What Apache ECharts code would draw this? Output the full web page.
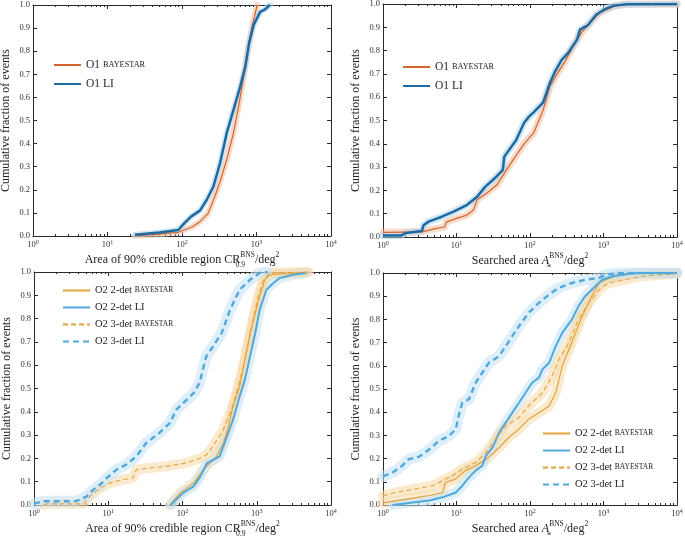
<!DOCTYPE html>
<html>
<head>
<meta charset="utf-8">
<script src="https://cdn.jsdelivr.net/npm/echarts@6/dist/echarts.min.js"></script>
<style>html,body{margin:0;padding:0;background:#fff}#c{width:685px;height:536px}</style>
</head>
<body>
<div id="c"></div>
<script>
// ---------- DATA ----------
const yTicks = [0,0.1,0.2,0.3,0.4,0.5,0.6,0.7,0.8,0.9,1.0];
const xMajorTicks = [1,10,100,1000,10000];
const xMinorTicks = [2,3,4,5,6,7,8,9,20,30,40,50,60,70,80,90,200,300,400,500,600,700,800,900,2000,3000,4000,5000,6000,7000,8000,9000];

// Panel 1: 90% credible region, O1
const p1BayX = [23.4, 50, 89, 138, 174, 224, 275, 324, 398, 490, 575, 661, 776, 891, 1023];
const p1BayY = [0.0, 0.008, 0.016, 0.04, 0.062, 0.098, 0.17, 0.235, 0.33, 0.445, 0.56, 0.675, 0.82, 0.92, 1.0];
const p1LiX = [23.4, 50, 89, 107, 132, 174, 214, 263, 324, 398, 490, 603, 708, 794, 912, 1122, 1288, 1514];
const p1LiY = [0.005, 0.015, 0.026, 0.055, 0.084, 0.11, 0.156, 0.213, 0.315, 0.445, 0.545, 0.646, 0.733, 0.834, 0.913, 0.97, 0.98, 1.0];

// Panel 2: searched area, O1
const p2BayX = [1, 3.39, 5.37, 6.92, 7.24, 10, 13.8, 17.0, 19.1, 25.7, 35.5, 47.9, 64.6, 83.2, 100, 112, 151, 186, 234, 302, 389, 501, 661, 891, 1380, 2089, 10000];
const p2BayY = [0.02, 0.022, 0.037, 0.043, 0.064, 0.08, 0.094, 0.116, 0.16, 0.188, 0.224, 0.288, 0.35, 0.40, 0.43, 0.446, 0.545, 0.646, 0.70, 0.756, 0.82, 0.877, 0.92, 0.963, 0.99, 1.0, 1.0];
const p2LiX = [1, 1.74, 2.04, 3.39, 3.55, 4.17, 6.31, 9.12, 13.8, 19.1, 24.5, 33.1, 42.7, 44.7, 64.6, 83.2, 97.7, 112, 151, 186, 219, 269, 331, 437, 479, 617, 794, 1047, 1380, 2089, 10000];
const p2LiY = [0.006, 0.006, 0.017, 0.026, 0.05, 0.066, 0.087, 0.109, 0.137, 0.173, 0.215, 0.252, 0.288, 0.345, 0.415, 0.49, 0.518, 0.535, 0.578, 0.66, 0.71, 0.76, 0.79, 0.847, 0.89, 0.91, 0.954, 0.978, 0.993, 0.999, 1.0];

// Panel 3: 90% credible region, O2
const p3Bay2X = [67.6, 93.3, 141, 191, 288, 355, 417, 479, 589, 692, 813, 955, 1096, 1288, 1445, 1660, 3090, 4677];
const p3Bay2Y = [0, 0.052, 0.094, 0.152, 0.209, 0.266, 0.338, 0.424, 0.51, 0.624, 0.738, 0.824, 0.896, 0.967, 0.985, 0.99, 0.995, 1.0];
const p3Li2X = [69.2, 102, 141, 174, 214, 316, 398, 479, 589, 692, 813, 955, 1096, 1349, 1660, 2042, 3090, 4677];
const p3Li2Y = [0, 0.052, 0.08, 0.123, 0.18, 0.209, 0.295, 0.366, 0.467, 0.538, 0.638, 0.738, 0.838, 0.924, 0.952, 0.974, 0.988, 0.996];
const p3Bay3X = [1.35, 1.48, 4.68, 5.13, 6.31, 7.76, 10.5, 15.8, 21.4, 24.0, 36.3, 60.3, 112, 170, 209, 257, 355, 457, 562, 661, 776, 891, 1047, 1230, 1514, 5000];
const p3Bay3Y = [0, 0.005, 0.005, 0.023, 0.05, 0.073, 0.094, 0.109, 0.116, 0.152, 0.159, 0.166, 0.18, 0.2, 0.215, 0.252, 0.323, 0.41, 0.51, 0.595, 0.695, 0.796, 0.896, 0.967, 0.996, 1.0];
const p3Li3X = [1, 1.35, 3.55, 4.17, 5.13, 6.31, 7.76, 9.55, 12.9, 17.4, 24.0, 32.4, 49.0, 67.6, 83.2, 141, 170, 191, 209, 257, 339, 437, 589, 813, 1096, 1400];
const p3Li3Y = [0.006, 0.016, 0.016, 0.023, 0.037, 0.066, 0.087, 0.116, 0.152, 0.173, 0.209, 0.266, 0.31, 0.352, 0.41, 0.48, 0.524, 0.59, 0.638, 0.68, 0.74, 0.838, 0.924, 0.967, 0.996, 1.0];

// Panel 4: searched area, O2
const p4Bay2X = [1, 2.24, 4.68, 6.46, 7.08, 9.77, 13.2, 18.2, 27.5, 38.0, 51.3, 70.8, 95.5, 132, 182, 224, 275, 339, 417, 513, 692, 871, 1072, 1445, 2455, 5000, 10000];
const p4Bay2Y = [0.009, 0.026, 0.043, 0.054, 0.097, 0.112, 0.148, 0.169, 0.205, 0.248, 0.291, 0.327, 0.37, 0.398, 0.427, 0.484, 0.599, 0.67, 0.742, 0.814, 0.9, 0.957, 0.971, 0.986, 0.997, 1.0, 1.0];
const p4Li2X = [1.35, 2.24, 4.27, 6.46, 9.77, 12.0, 14.8, 18.2, 22.4, 25.1, 30.9, 38.0, 46.8, 57.5, 70.8, 87.1, 107, 132, 148, 182, 224, 275, 372, 457, 562, 776, 955, 1318, 2188, 3000, 10000];
const p4Li2Y = [0, 0.009, 0.019, 0.033, 0.054, 0.083, 0.119, 0.148, 0.169, 0.212, 0.248, 0.312, 0.355, 0.398, 0.441, 0.484, 0.527, 0.549, 0.585, 0.613, 0.685, 0.742, 0.8, 0.857, 0.9, 0.943, 0.971, 0.986, 0.997, 1.0, 1.0];
const p4Bay3X = [1, 1.48, 2.75, 4.68, 6.46, 8.71, 12.0, 18.2, 25.1, 33.9, 46.8, 70.8, 95.5, 148, 200, 245, 339, 457, 631, 871, 1175, 1995, 3311, 9550];
const p4Bay3Y = [0.04, 0.054, 0.069, 0.083, 0.105, 0.126, 0.155, 0.183, 0.226, 0.284, 0.341, 0.377, 0.427, 0.484, 0.556, 0.627, 0.699, 0.8, 0.871, 0.928, 0.957, 0.971, 0.986, 0.997];
const p4Li3X = [1, 1.35, 1.82, 2.24, 3.09, 4.27, 5.75, 7.94, 9.77, 10.7, 12.0, 14.8, 18.2, 22.4, 27.5, 38.0, 46.8, 57.5, 70.8, 95.5, 132, 182, 245, 372, 562, 871, 1072, 1622, 10000];
const p4Li3Y = [0.123, 0.14, 0.169, 0.198, 0.208, 0.24, 0.276, 0.298, 0.327, 0.384, 0.441, 0.456, 0.527, 0.57, 0.613, 0.642, 0.685, 0.728, 0.771, 0.828, 0.871, 0.907, 0.936, 0.957, 0.971, 0.979, 0.993, 1.0, 1.0];

// ---------- STYLE / LAYOUT ----------
const SERIF = '"Liberation Serif","DejaVu Serif",serif';
const AX = '#2a2a2a';
const C = {
  o1Bay: '#d4652c', o1BayBand: '#f3bfa0',
  o1Li: '#1d6aa2', o1LiBand: '#b0d3ec',
  o2Bay: '#e3a23c', o2BayBand: '#f6d9a6',
  o2Li: '#4fa9dc', o2LiBand: '#c3e2f5'
};
const grids = [
  {left: 33, top: 5, width: 298, height: 231},
  {left: 383, top: 4, width: 294, height: 233},
  {left: 34, top: 272, width: 297, height: 233},
  {left: 383, top: 273, width: 294, height: 232}
].map(g => Object.assign(g, {containLabel: false, outerBoundsMode: 'none'}));
const xNames = [
  'Area of 90% credible region CR{sub|0.9}{sup|BNS}{n|/deg}{sq|2}',
  'Searched area {it|A}{sub|∗}{sup|BNS}{n|/deg}{sq|2}',
  'Area of 90% credible region CR{sub|0.9}{sup|BNS}{n|/deg}{sq|2}',
  'Searched area {it|A}{sub|∗}{sup|BNS}{n|/deg}{sq|2}'
];
const nameRich = {
  n: {fontSize: 12, fontFamily: SERIF, color: '#222', lineHeight: 18, verticalAlign: 'middle'},
  it: {fontSize: 12, fontFamily: SERIF, fontStyle: 'italic', color: '#222', lineHeight: 18},
  sup: {fontSize: 7.5, fontFamily: SERIF, color: '#222', lineHeight: 8, verticalAlign: 'top'},
  sub: {fontSize: 7.5, fontFamily: SERIF, color: '#222', lineHeight: 8, verticalAlign: 'bottom', width: 0, align: 'left'},
  sq: {fontSize: 7.5, fontFamily: SERIF, color: '#222', lineHeight: 10, verticalAlign: 'top'}
};

const xAxes = [], yAxes = [];
grids.forEach((g, i) => {
  const base = {gridIndex: i, type: 'log', logBase: 10, min: 1, max: 10000, splitLine: {show: false}, minorSplitLine: {show: false}};
  xAxes.push(Object.assign({}, base, {
    position: 'bottom',
    axisLine: {show: true, lineStyle: {color: AX, width: 1}},
    axisTick: {show: true, inside: true, length: 4, customValues: xMajorTicks, lineStyle: {color: AX}},
    axisLabel: {
      show: true, margin: 3, customValues: xMajorTicks,
      formatter: v => '{b|10}{e|' + Math.round(Math.log10(v)) + '}',
      rich: {
        b: {fontSize: 8.5, fontFamily: SERIF, color: '#333', lineHeight: 12},
        e: {fontSize: 6, fontFamily: SERIF, color: '#333', lineHeight: 7, verticalAlign: 'top'}
      }
    },
    name: xNames[i], nameLocation: 'middle', nameGap: 15, nameMoveOverlap: false,
    nameTextStyle: {fontSize: 12, fontFamily: SERIF, color: '#222', rich: nameRich}
  }));
  xAxes.push(Object.assign({}, base, {
    position: 'bottom', axisLine: {show: false},
    axisTick: {show: true, inside: true, length: 2, customValues: xMinorTicks, lineStyle: {color: AX}},
    axisLabel: {show: false}
  }));
  xAxes.push(Object.assign({}, base, {
    position: 'top', axisLine: {show: true, lineStyle: {color: AX, width: 1}},
    axisTick: {show: true, inside: true, length: 4, customValues: xMajorTicks, lineStyle: {color: AX}},
    axisLabel: {show: false}
  }));
  xAxes.push(Object.assign({}, base, {
    position: 'top', axisLine: {show: false},
    axisTick: {show: true, inside: true, length: 2, customValues: xMinorTicks, lineStyle: {color: AX}},
    axisLabel: {show: false}
  }));
  const ybase = {gridIndex: i, type: 'value', min: 0, max: 1, interval: 0.1, splitLine: {show: false}};
  yAxes.push(Object.assign({}, ybase, {
    position: 'left',
    axisLine: {show: true, lineStyle: {color: AX, width: 1}},
    axisTick: {show: true, inside: true, length: 4, lineStyle: {color: AX}},
    axisLabel: {show: true, margin: 3, fontSize: 8.5, fontFamily: SERIF, color: '#333', formatter: v => v.toFixed(1)},
    name: 'Cumulative fraction of events', nameLocation: 'middle', nameRotate: 90, nameGap: 21, nameMoveOverlap: false,
    nameTextStyle: {fontSize: 12, fontFamily: SERIF, color: '#222'}
  }));
  yAxes.push(Object.assign({}, ybase, {
    position: 'right',
    axisLine: {show: true, lineStyle: {color: AX, width: 1}},
    axisTick: {show: true, inside: true, length: 4, lineStyle: {color: AX}},
    axisLabel: {show: false}
  }));
});

function zip(xs, ys) { return xs.map((x, k) => [x, ys[k]]); }
const series = [];
function curve(name, g, xs, ys, color, width, dash, bandColor, bandWidth) {
  const common = {type: 'line', xAxisIndex: 4 * g, yAxisIndex: 2 * g, symbol: 'none', showSymbol: false, data: zip(xs, ys), animation: false};
  series.push(Object.assign({}, common, {
    name: name + ' band', silent: true, z: 1,
    lineStyle: {color: bandColor, width: bandWidth, opacity: 0.55, join: 'round', cap: 'round'}
  }));
  series.push(Object.assign({}, common, {
    name: name, z: 3, color: color,
    lineStyle: {color: color, width: width, type: dash ? dash : 'solid', join: 'round'}
  }));
}
curve('O1 BAYESTAR', 0, p1BayX, p1BayY, C.o1Bay, 1.2, null, C.o1BayBand, 6);
curve('O1 LI', 0, p1LiX, p1LiY, C.o1Li, 2.5, null, C.o1LiBand, 6);
curve('O1 BAYESTAR', 1, p2BayX, p2BayY, C.o1Bay, 1.2, null, C.o1BayBand, 7);
curve('O1 LI', 1, p2LiX, p2LiY, C.o1Li, 2.5, null, C.o1LiBand, 7);
curve('O2 2-det BAYESTAR', 2, p3Bay2X, p3Bay2Y, C.o2Bay, 1.2, null, C.o2BayBand, 10);
curve('O2 2-det LI', 2, p3Li2X, p3Li2Y, C.o2Li, 2, null, C.o2LiBand, 10);
curve('O2 3-det BAYESTAR', 2, p3Bay3X, p3Bay3Y, C.o2Bay, 1.1, [5, 3], C.o2BayBand, 10);
curve('O2 3-det LI', 2, p3Li3X, p3Li3Y, C.o2Li, 2.4, [6, 4], C.o2LiBand, 11);
curve('O2 2-det BAYESTAR', 3, p4Bay2X, p4Bay2Y, C.o2Bay, 1.2, null, C.o2BayBand, 10);
curve('O2 2-det LI', 3, p4Li2X, p4Li2Y, C.o2Li, 2, null, C.o2LiBand, 10);
curve('O2 3-det BAYESTAR', 3, p4Bay3X, p4Bay3Y, C.o2Bay, 1.1, [5, 3], C.o2BayBand, 10);
curve('O2 3-det LI', 3, p4Li3X, p4Li3Y, C.o2Li, 2.4, [6, 4], C.o2LiBand, 11);

function legend(names, left, top, gap, fs) {
  return {
    data: names, left: left, top: top, orient: 'vertical', selectedMode: false, z: 10,
    padding: 0, itemWidth: 27, itemHeight: 10, itemGap: gap,
    itemStyle: {opacity: 0},
    formatter: n => n.replace('BAYESTAR', '{sc|BAYESTAR}'),
    textStyle: {fontSize: fs, fontFamily: SERIF, color: '#222',
      rich: {sc: {fontSize: fs * 0.72, fontFamily: SERIF, color: '#222'}}}
  };
}
const legends = [
  legend(['O1 BAYESTAR', 'O1 LI'], 53, 59, 7, 11.5),
  legend(['O1 BAYESTAR', 'O1 LI'], 402, 61, 7, 11.5),
  legend(['O2 2-det BAYESTAR', 'O2 2-det LI', 'O2 3-det BAYESTAR', 'O2 3-det LI'], 62, 285, 6, 10.5),
  legend(['O2 2-det BAYESTAR', 'O2 2-det LI', 'O2 3-det BAYESTAR', 'O2 3-det LI'], 542, 428, 6, 10.5)
];

const chart = echarts.init(document.getElementById('c'), null, {renderer: 'canvas'});
chart.setOption({
  animation: false,
  backgroundColor: '#fff',
  grid: grids,
  xAxis: xAxes,
  yAxis: yAxes,
  legend: legends,
  series: series
});
</script>
</body>
</html>
